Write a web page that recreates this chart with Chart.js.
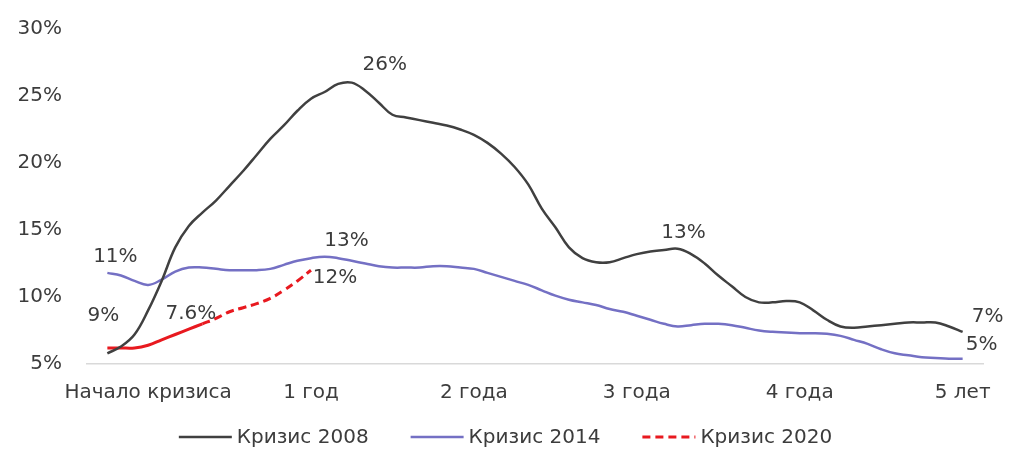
<!DOCTYPE html>
<html>
<head>
<meta charset="utf-8">
<script src="https://cdn.jsdelivr.net/npm/chart.js@4/dist/chart.umd.min.js"></script>
<style>
  html, body { margin: 0; padding: 0; background: #fff; }
  #wrap { width: 1011px; height: 450px; }
</style>
</head>
<body>
<div id="wrap"><canvas id="chart"></canvas></div>
<script>
// months from the start of the crisis
const months = [-3, -2, -1, 0, 1, 2, 3, 4, 5, 6, 7, 8, 9, 10, 11, 12,
  13, 14, 15, 16, 17, 18, 19, 20, 21, 22, 23, 24, 25, 26, 27, 28,
  29, 30, 31, 32, 33, 34, 35, 36, 37, 38, 39, 40, 41, 42, 43, 44,
  45, 46, 47, 48, 49, 50, 51, 52, 53, 54, 55, 56, 57, 58, 59, 60];

const tickMonths = [0, 12, 24, 36, 48, 60];
const tickNames = ["Начало кризиса", "1 год", "2 года", "3 года", "4 года", "5 лет"];

const seriesNames = ["Кризис 2008", "Кризис 2014", "Кризис 2020"];

const crisis2008 = [5.8, 6.3, 7.2, 9.0, 11.2, 13.7, 15.3, 16.3, 17.2, 18.3, 19.4, 20.6, 21.8, 22.8, 23.9, 24.8,
  25.3, 25.9, 26.0, 25.4, 24.5, 23.6, 23.4, 23.2, 23.0, 22.8, 22.5, 22.1, 21.5, 20.7, 19.7, 18.4,
  16.6, 15.2, 13.7, 12.9, 12.6, 12.6, 12.9, 13.2, 13.4, 13.5, 13.6, 13.2, 12.5, 11.6, 10.8, 10.0,
  9.6, 9.6, 9.7, 9.6, 9.0, 8.3, 7.8, 7.7, 7.8, 7.9, 8.0, 8.1, 8.1, 8.1, 7.8, 7.4];

const crisis2014 = [11.8, 11.6, 11.2, 10.9, 11.3, 11.9, 12.2, 12.2, 12.1, 12.0, 12.0, 12.0, 12.1, 12.4, 12.7, 12.9,
  13.0, 12.9, 12.7, 12.5, 12.3, 12.2, 12.2, 12.2, 12.3, 12.3, 12.2, 12.1, 11.8, 11.5, 11.2, 10.9,
  10.5, 10.1, 9.8, 9.6, 9.4, 9.1, 8.9, 8.6, 8.3, 8.0, 7.8, 7.9, 8.0, 8.0, 7.9, 7.7,
  7.5, 7.4, 7.35, 7.3, 7.3, 7.25, 7.1, 6.8, 6.5, 6.1, 5.8, 5.65, 5.5, 5.45, 5.4, 5.4];

const crisis2020 = [6.2, 6.2, 6.2, 6.4, 6.8, 7.2, 7.6, 8.0, 8.4, 8.9, 9.2, 9.5, 9.9, 10.5, 11.2, 12.0];
const lastActual2020 = 7; // after this point the 2020 line is dashed

// value labels: which series, which point, text, offset from the point
const notes = [
  { ds: 0, i: 0, text: "9%", dx: -4, dy: -37 },
  { ds: 1, i: 0, text: "11%", dx: 8, dy: -16 },
  { ds: 2, i: 6, text: "7.6%", dx: 2, dy: -15 },
  { ds: 1, i: 16, text: "13%", dx: 22, dy: -16 },
  { ds: 2, i: 15, text: "12%", dx: 24, dy: 8 },
  { ds: 0, i: 18, text: "26%", dx: 33, dy: -18 },
  { ds: 0, i: 42, text: "13%", dx: 6, dy: -16 },
  { ds: 0, i: 63, text: "7%", dx: 25, dy: -15 },
  { ds: 1, i: 63, text: "5%", dx: 19, dy: -14 }
];

const textColor = "#3c3c3c";
const fontFamily = "'DejaVu Sans', sans-serif";
const colors = ["#404040", "#7470c4", "#e8191f"];

function points(values) {
  return values.map((v, i) => ({ x: months[i], y: v }));
}

const notePlugin = {
  id: "notes",
  afterDatasetsDraw(chart) {
    const ctx = chart.ctx;
    ctx.save();
    ctx.font = "20px " + fontFamily;
    ctx.fillStyle = textColor;
    ctx.textAlign = "center";
    ctx.textBaseline = "middle";
    notes.forEach(n => {
      const pt = chart.getDatasetMeta(n.ds).data[n.i];
      ctx.fillText(n.text, pt.x + n.dx, pt.y + n.dy);
    });
    ctx.restore();
  }
};

// legend drawn by hand so the spacing matches
const legendPlugin = {
  id: "bottomLegend",
  afterDraw(chart) {
    const ctx = chart.ctx;
    const sampleW = 53, gap = 5, itemGap = 42, y = 437;
    ctx.save();
    ctx.font = "20px " + fontFamily;
    ctx.textBaseline = "middle";
    const items = chart.data.datasets.map(d => ({
      d: d, w: sampleW + gap + ctx.measureText(d.label).width
    }));
    const total = items.reduce((s, it) => s + it.w, 0) + itemGap * (items.length - 1);
    let x = chart.width / 2 - total / 2;
    items.forEach(it => {
      ctx.strokeStyle = it.d.borderColor;
      ctx.lineWidth = it.d.borderWidth;
      ctx.setLineDash(it.d.borderDash || []);
      ctx.beginPath();
      ctx.moveTo(x, y);
      ctx.lineTo(x + sampleW, y);
      ctx.stroke();
      ctx.setLineDash([]);
      ctx.fillStyle = textColor;
      ctx.textAlign = "left";
      ctx.fillText(it.d.label, x + sampleW + gap, y + 1);
      x += it.w + itemGap;
    });
    ctx.restore();
  }
};

const ctx = document.getElementById("chart").getContext("2d");
const chart = new Chart(ctx, {
  type: "line",
  data: {
    datasets: [
      {
        label: seriesNames[0],
        data: points(crisis2008),
        borderColor: colors[0],
        borderWidth: 2.5,
        pointRadius: 0,
        tension: 0.4
      },
      {
        label: seriesNames[1],
        data: points(crisis2014),
        borderColor: colors[1],
        borderWidth: 2.5,
        pointRadius: 0,
        tension: 0.4
      },
      {
        label: seriesNames[2],
        data: points(crisis2020),
        borderColor: colors[2],
        borderWidth: 3,
        borderDash: [8, 5],
        pointRadius: 0,
        tension: 0.4,
        segment: {
          borderDash: c => c.p0DataIndex < lastActual2020 ? [] : [8, 5]
        }
      }
    ]
  },
  options: {
    responsive: true,
    maintainAspectRatio: false,
    animation: false,
    layout: { padding: { top: 29, right: 28, left: 0, bottom: 41 } },
    plugins: {
      legend: { display: false },
      tooltip: { enabled: false }
    },
    scales: {
      x: {
        type: "linear",
        min: -4.5,
        max: 61.5,
        afterBuildTicks: s => { s.ticks = tickMonths.map(v => ({ value: v })); },
        afterFit: s => { s.height = 45; },
        ticks: {
          autoSkip: false,
          maxRotation: 0,
          padding: 17,
          color: textColor,
          font: { family: fontFamily, size: 20 },
          callback: v => tickNames[tickMonths.indexOf(v)]
        },
        grid: { display: true, drawOnChartArea: false, drawTicks: false },
        border: { display: true, color: "#d9d9d9", width: 1.5 }
      },
      y: {
        min: 5,
        max: 30,
        afterFit: s => { s.width = 87; s.paddingTop = 0; s.paddingBottom = 0; },
        ticks: {
          stepSize: 5,
          padding: 25,
          color: textColor,
          font: { family: fontFamily, size: 20 },
          callback: v => v + "%"
        },
        grid: { display: true, drawOnChartArea: false, drawTicks: false },
        border: { display: false }
      }
    }
  },
  plugins: [notePlugin, legendPlugin]
});
</script>
</body>
</html>
